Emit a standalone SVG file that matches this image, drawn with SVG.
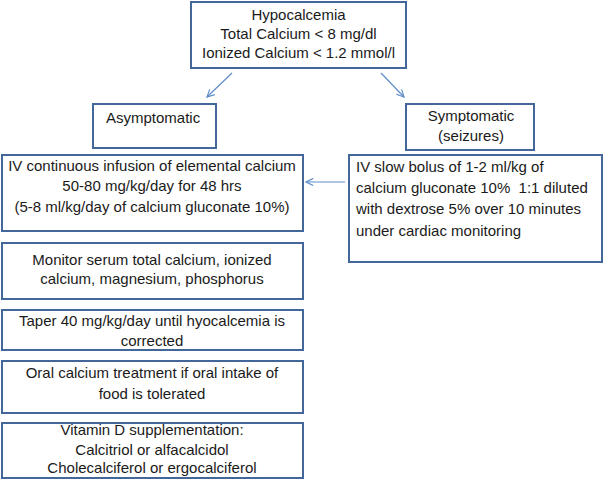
<svg xmlns="http://www.w3.org/2000/svg" width="604" height="480" viewBox="0 0 604 480">
<defs>
<style>
.box{fill:#fff;stroke:#44679b;stroke-width:2}
.t{font-family:"Liberation Sans",Arial,sans-serif;font-size:15px;fill:#1a1a1a}
.c{text-anchor:middle}
.conn{stroke:#5f8dc9;stroke-width:1.2;fill:none}
</style>
<marker id="arr" viewBox="0 0 10 10" refX="9" refY="5" markerWidth="9" markerHeight="9" markerUnits="userSpaceOnUse" orient="auto">
<path d="M1,1 L9,5 L1,9" fill="none" stroke="#5f8dc9" stroke-width="1.3"/>
</marker>
</defs>
<rect width="604" height="480" fill="#fff"/>
<g id="connectors">
<line class="conn" x1="232" y1="73" x2="207" y2="97" marker-end="url(#arr)"/>
<line class="conn" x1="381" y1="73" x2="404" y2="97" marker-end="url(#arr)"/>
<line class="conn" x1="345" y1="182" x2="306" y2="182" marker-end="url(#arr)"/>
</g>
<g id="hypocalcemia">
<rect class="box" x="191" y="2" width="215" height="66"/>
<text class="t c" x="298.5" y="20">Hypocalcemia</text>
<text class="t c" x="298.5" y="39">Total Calcium &lt; 8 mg/dl</text>
<text class="t c" x="298.5" y="58">Ionized Calcium &lt; 1.2 mmol/l</text>
</g>
<g id="asymptomatic">
<rect class="box" x="93" y="104" width="123" height="44"/>
<text class="t" x="106" y="123">Asymptomatic</text>
</g>
<g id="symptomatic">
<rect class="box" x="406" y="104" width="128" height="46"/>
<text class="t c" x="471" y="121">Symptomatic</text>
<text class="t c" x="471" y="141">(seizures)</text>
</g>
<g id="iv-infusion">
<rect class="box" x="2" y="155" width="301" height="76"/>
<text class="t c" x="152" y="171">IV continuous infusion of elemental calcium</text>
<text class="t c" x="152" y="191">50-80 mg/kg/day for 48 hrs</text>
<text class="t c" x="152" y="212">(5-8 ml/kg/day of calcium gluconate 10%)</text>
</g>
<g id="iv-bolus">
<rect class="box" x="349" y="155" width="253" height="107"/>
<text class="t" x="356" y="172">IV slow bolus of 1-2 ml/kg of</text>
<text class="t" x="356" y="193">calcium gluconate 10%&#160; 1:1 diluted</text>
<text class="t" x="356" y="214">with dextrose 5% over 10 minutes</text>
<text class="t" x="356" y="236">under cardiac monitoring</text>
</g>
<g id="monitor">
<rect class="box" x="2" y="243" width="301" height="56"/>
<text class="t c" x="152" y="265">Monitor serum total calcium, ionized</text>
<text class="t c" x="152" y="284">calcium, magnesium, phosphorus</text>
</g>
<g id="taper">
<rect class="box" x="2" y="310" width="301" height="40"/>
<text class="t c" x="152" y="326">Taper 40 mg/kg/day until hyocalcemia is</text>
<text class="t c" x="152" y="346">corrected</text>
</g>
<g id="oral">
<rect class="box" x="2" y="361" width="301" height="52"/>
<text class="t c" x="152" y="378">Oral calcium treatment if oral intake of</text>
<text class="t c" x="152" y="399">food is tolerated</text>
</g>
<g id="vitamin-d">
<rect class="box" x="2" y="423" width="301" height="55"/>
<text class="t c" x="152" y="435">Vitamin D supplementation:</text>
<text class="t c" x="152" y="455">Calcitriol or alfacalcidol</text>
<text class="t c" x="152" y="473">Cholecalciferol or ergocalciferol</text>
</g>
</svg>
